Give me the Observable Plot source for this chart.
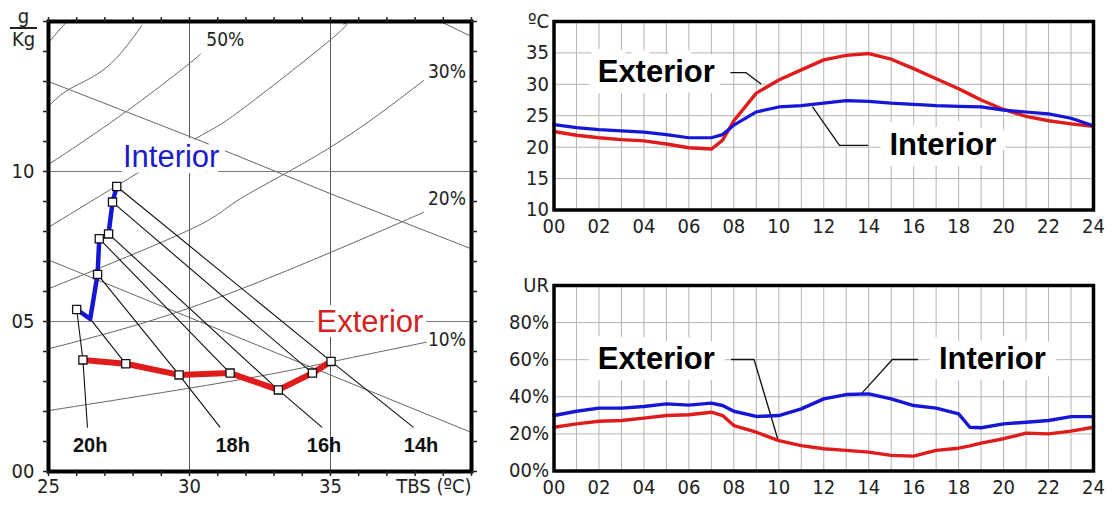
<!DOCTYPE html>
<html><head><meta charset="utf-8">
<script src="https://cdn.jsdelivr.net/npm/d3@7"></script>
<script src="https://cdn.jsdelivr.net/npm/@observablehq/plot@0.6"></script>
<style>
html,body{margin:0;padding:0;background:#fff;}
body{width:1115px;height:507px;position:relative;overflow:hidden;font-family:"Liberation Sans",Arial,sans-serif;}
#psy{position:absolute;left:0;top:0;}
#temp{position:absolute;left:500px;top:0;}
#hum{position:absolute;left:500px;top:250px;}
.frac{position:absolute;left:10px;top:6px;width:27px;text-align:center;color:#222;
 font-family:"Liberation Sans Narrow","DejaVu Sans Condensed",sans-serif;font-stretch:condensed;font-size:20px;line-height:21px;}
.frac .den{border-top:2px solid #222;}
</style></head>
<body>
<div id="psy"></div><div id="temp"></div><div id="hum"></div>
<div class="frac"><div>g</div><div class="den">Kg</div></div>
<script>
// ================= Psychrometric chart (TBS °C vs g/Kg) =================
const rh70 = [[25, 14.3], [25.65, 15]];
const rh60 = [[25, 12.17], [25.77, 12.76], [27.07, 13.48], [28.3, 14.85]];
const rh50 = [[25, 10.27], [25.4, 10.48], [27.8, 12.03], [29.9, 13.53], [30.4, 13.92]];
const rh40 = [[25, 8.14], [30, 10.98], [31.8, 12.03], [35, 14.39], [35.45, 14.92]];
const rh30 = [[25, 6.09], [30.1, 8.1], [31.8, 9.09], [35, 10.81], [38.3, 13.03]];
const rh20 = [[25, 4.09], [30, 5.45], [35.3, 7.42], [38.3, 8.64]];
const rh10 = [[25, 2.03], [31.6, 3.03], [35, 3.65], [38.4, 4.31]];
const wb1 = [[25, 13.0], [30, 11.17], [35, 9.26], [40, 7.42]];
const wb2 = [[25, 7.05], [40, 1.3]];
const wb3 = [[38.9, 15], [40, 14.5]];

const rhLabels = ["50%", "30%", "20%", "10%"];
const rhLabelT = [31.27, 39.13, 39.13, 39.13];
const rhLabelW = [14.37, 13.31, 9.08, 4.4];

const hourNames = [14, 15, 16, 17, 18, 19, 20];
const intT = [27.42, 27.27, 27.13, 26.80, 26.74, 26.48, 26.0];
const intW = [9.5, 8.98, 7.92, 7.76, 6.57, 5.09, 5.4];
const extT = [35.02, 34.36, 33.15, 31.44, 29.63, 27.74, 26.22];
const extW = [3.67, 3.28, 2.72, 3.28, 3.22, 3.59, 3.72];
const intMarked = [true, true, true, true, true, false, true];

const labeledHours = [14, 16, 18, 20];
const hourLabelText = ["14h", "16h", "18h", "20h"];
const hourLineEndT = [37.93, 34.69, 31.08, 26.38];
const hourLineEndW = [1.48, 1.48, 1.48, 1.48];
const hourLabelT = [38.21, 34.77, 31.53, 26.48];
const hourLabelW = [0.87, 0.87, 0.87, 0.87];

const psyGridT = [30, 35];
const psyGridW = [5, 10];
const psyXTicks = [25, 30, 35];
const psyXTickLabels = ["25", "30", "35"];
const psyXTitle = "TBS (ºC)";
const psyYTicks = [0, 5, 10];
const psyYTickLabels = ["00", "05", "10"];

// ================= Daily curves =================
const hours = [0,1,2,3,4,5,6,7,7.5,8,9,10,11,12,13,14,15,16,17,18,18.5,19,20,21,22,23,24];
const tempExt = [22.5,21.9,21.5,21.2,21.0,20.5,19.9,19.7,21.1,24.2,28.6,30.7,32.3,33.9,34.6,34.9,34.0,32.5,30.9,29.3,28.4,27.5,26.0,24.9,24.2,23.7,23.3];
const tempInt = [23.6,23.1,22.8,22.6,22.4,22.0,21.5,21.5,22.0,23.5,25.6,26.4,26.6,27.0,27.4,27.3,27.0,26.8,26.6,26.5,26.45,26.4,25.9,25.6,25.3,24.6,23.4];
const rhExt = [23.6,25.4,26.8,27.2,28.5,29.9,30.3,31.7,29.9,24.5,20.9,16.4,13.7,12.0,11.1,10.2,8.4,8.0,11.1,12.3,13.5,15.0,17.4,20.4,20.0,21.5,23.6];
const rhInt = [29.9,32.2,33.9,33.9,34.8,36.2,35.5,36.6,35.3,32.2,29.4,29.9,33.5,38.9,41.2,41.6,38.9,35.3,33.9,30.8,23.6,23.3,25.4,26.3,27.2,29.3,29.3];

const hourTicks = [0,2,4,6,8,10,12,14,16,18,20,22,24];
const hourTickLabels = ["00","02","04","06","08","10","12","14","16","18","20","22","24"];
const tempTicks = [10,15,20,25,30,35,40];
const tempTickLabels = ["10","15","20","25","30","35","ºC"];
const rhTicks = [0,20,40,60,80,100];
const rhTickLabels = ["00%","20%","40%","60%","80%","UR"];

// callouts [hour, value]
const tempExtLeader = [[7.87, 31.85], [8.54, 31.85], [9.2, 30.1]];
const tempIntLeader = [[11.51, 26.37], [12.7, 20.27], [13.96, 20.27]];
const rhExtLeader = [[7.9, 60.1], [8.9, 60.1], [9.95, 17.4]];
const rhIntLeader = [[16.17, 60.1], [15.05, 60.1], [13.67, 41.6]];

// ---------------------------------------------------------------
const NARROW = '"Liberation Sans Narrow","DejaVu Sans Condensed",sans-serif';
const ARIAL = '"Liberation Sans", Arial, sans-serif';
const BLUE = "#1616d6", RED = "#e01b1b";
const pt = a => a.map(([x, y]) => ({x, y}));
const mapOf = (k, v) => new Map(k.map((d, i) => [d, v[i]]));

// ----- left chart -----
const rhCurves = [rh70, rh60, rh50, rh40, rh30, rh20, rh10].flatMap((c, k) => c.map(([x, y]) => ({x, y, k})));
const wbLines = [wb1, wb2, wb3].flatMap((c, k) => c.map(([x, y]) => ({x, y, k})));
const intPts = hourNames.map((h, i) => ({h, x: intT[i], y: intW[i], m: intMarked[i]}));
const extPts = hourNames.map((h, i) => ({h, x: extT[i], y: extW[i], m: true}));
const hourLines = hourNames.flatMap((h, i) => {
  const p = [{h, x: intT[i], y: intW[i]}, {h, x: extT[i], y: extW[i]}];
  const j = labeledHours.indexOf(h);
  if (j >= 0) p.push({h, x: hourLineEndT[j], y: hourLineEndW[j]});
  return p;
});
const hourLbls = hourLabelText.map((t, i) => ({t, x: hourLabelT[i], y: hourLabelW[i]}));
const rhLbls = rhLabels.map((t, i) => ({t, x: rhLabelT[i], y: rhLabelW[i]}));
const xLab = mapOf(psyXTicks, psyXTickLabels), yLab = mapOf(psyYTicks, psyYTickLabels);
const noLab = {label: null};

const psy = Plot.plot({
  width: 490, height: 507,
  marginLeft: 48, marginRight: 19, marginTop: 21, marginBottom: 36,
  x: {domain: [25, 40], label: null},
  y: {domain: [0, 15], label: null},
  style: {fontFamily: NARROW, fontSize: "20px", color: "#222", background: "white", overflow: "visible"},
  marks: [
    Plot.ruleX(psyGridT, {stroke: "#5a5a5a", strokeWidth: 1}),
    Plot.ruleY(psyGridW, {stroke: "#7a7a7a", strokeWidth: 1}),
    Plot.line(rhCurves, {x: "x", y: "y", z: "k", curve: "natural", stroke: "#666", strokeWidth: 1}),
    Plot.line(wbLines, {x: "x", y: "y", z: "k", stroke: "#666", strokeWidth: 1}),
    Plot.text(rhLbls, {x: "x", y: "y", text: "t", fill: "#222", fontSize: 19, fontFamily: NARROW}),
    Plot.line(hourLines, {x: "x", y: "y", z: "h", stroke: "#111", strokeWidth: 1.1}),
    Plot.text(["Interior"], {x: 29.35, y: 10.47, fill: "#1c1cc8", fontSize: 31, fontFamily: ARIAL,
      stroke: "white", strokeWidth: 12, paintOrder: "stroke", strokeLinejoin: "round"}),
    Plot.text(["Exterior"], {x: 36.4, y: 4.97, fill: "#d42222", fontSize: 31, fontFamily: ARIAL,
      stroke: "white", strokeWidth: 10, paintOrder: "stroke", strokeLinejoin: "round"}),
    Plot.line(extPts, {x: "x", y: "y", stroke: RED, strokeWidth: 6, strokeLinejoin: "round"}),
    Plot.line(intPts, {x: "x", y: "y", stroke: BLUE, strokeWidth: 4.5, strokeLinejoin: "round"}),
    Plot.dot(extPts.concat(intPts).filter(d => d.m), {x: "x", y: "y", symbol: "square", r: 4.6, fill: "white", stroke: "#111", strokeWidth: 1.3}),
    Plot.text(hourLbls, {x: "x", y: "y", text: "t", fontSize: 20, fontWeight: "bold", fill: "#111", fontFamily: ARIAL}),
    Plot.frame({stroke: "black", strokeWidth: 4}),
    Plot.axisX(d3.range(25, 41), {anchor: "bottom", tickSize: 5, strokeWidth: 1.5, tickFormat: () => "", ...noLab}),
    Plot.axisX(d3.range(25, 41), {anchor: "top", tickSize: 5, strokeWidth: 1.5, tickFormat: () => "", ...noLab}),
    Plot.axisY(d3.range(0, 16), {anchor: "left", tickSize: 5, strokeWidth: 1.5, tickFormat: () => "", ...noLab}),
    Plot.axisY(d3.range(0, 16), {anchor: "right", tickSize: 5, strokeWidth: 1.5, tickFormat: () => "", ...noLab}),
    Plot.axisX(psyXTicks, {anchor: "bottom", tickSize: 0, tickPadding: 7, tickFormat: d => xLab.get(d), fontSize: 20, ...noLab}),
    Plot.text([psyXTitle], {x: 40, y: 0, textAnchor: "end", lineAnchor: "top", dy: 7, fontSize: 20, fill: "#222"}),
    Plot.axisY(psyYTicks, {anchor: "left", tickSize: 0, tickPadding: 14, tickFormat: d => yLab.get(d), fontSize: 20, ...noLab})
  ]
});
document.getElementById("psy").append(psy);

// ----- right charts -----
const series = (vals) => hours.map((h, i) => ({h, v: vals[i]}));
const hLab = mapOf(hourTicks, hourTickLabels);
const tLab = mapOf(tempTicks, tempTickLabels);
const rLab = mapOf(rhTicks, rhTickLabels);
const calloutText = (t, x, y) => Plot.text([t], {x, y, fontSize: 31, fontWeight: "bold", fill: "#000",
  fontFamily: ARIAL, stroke: "white", strokeWidth: 22, paintOrder: "stroke", strokeLinejoin: "round"});

const temp = Plot.plot({
  width: 615, height: 245,
  marginLeft: 53.5, marginRight: 22, marginTop: 21, marginBottom: 35.5,
  x: {domain: [0, 24], label: null},
  y: {domain: [10, 40], label: null},
  style: {fontFamily: NARROW, fontSize: "20px", color: "#222", background: "transparent", overflow: "visible"},
  marks: [
    Plot.ruleX(d3.range(0, 25), {stroke: "#b4b4b4", strokeWidth: 1}),
    Plot.ruleY(tempTicks.slice(1, -1), {stroke: "#b4b4b4", strokeWidth: 1}),
    calloutText("Exterior", 4.55, 31.9),
    calloutText("Interior", 17.3, 20.27),
    Plot.line(pt(tempExtLeader), {x: "x", y: "y", stroke: "#111", strokeWidth: 1.3}),
    Plot.line(pt(tempIntLeader), {x: "x", y: "y", stroke: "#111", strokeWidth: 1.3}),
    Plot.line(series(tempExt), {x: "h", y: "v", stroke: RED, strokeWidth: 3.4}),
    Plot.line(series(tempInt), {x: "h", y: "v", stroke: BLUE, strokeWidth: 3.2}),
    Plot.frame({stroke: "black", strokeWidth: 3.5}),
    Plot.axisX(hourTicks, {anchor: "bottom", tickSize: 0, tickPadding: 9, tickFormat: d => hLab.get(d), fontSize: 20, ...noLab}),
    Plot.axisY(tempTicks, {anchor: "left", tickSize: 0, tickPadding: 5, tickFormat: d => tLab.get(d), fontSize: 20, ...noLab})
  ]
});
document.getElementById("temp").append(temp);

const hum = Plot.plot({
  width: 615, height: 257,
  marginLeft: 53.5, marginRight: 22, marginTop: 35, marginBottom: 36.5,
  x: {domain: [0, 24], label: null},
  y: {domain: [0, 100], label: null},
  style: {fontFamily: NARROW, fontSize: "20px", color: "#222", background: "transparent", overflow: "visible"},
  marks: [
    Plot.ruleX(d3.range(0, 25), {stroke: "#b4b4b4", strokeWidth: 1}),
    Plot.ruleY(rhTicks.slice(1, -1), {stroke: "#b4b4b4", strokeWidth: 1}),
    calloutText("Exterior", 4.55, 60.1),
    calloutText("Interior", 19.5, 60.1),
    Plot.line(pt(rhExtLeader), {x: "x", y: "y", stroke: "#111", strokeWidth: 1.3}),
    Plot.line(pt(rhIntLeader), {x: "x", y: "y", stroke: "#111", strokeWidth: 1.3}),
    Plot.line(series(rhExt), {x: "h", y: "v", stroke: RED, strokeWidth: 3.4}),
    Plot.line(series(rhInt), {x: "h", y: "v", stroke: BLUE, strokeWidth: 3.4}),
    Plot.frame({stroke: "black", strokeWidth: 3.5}),
    Plot.axisX(hourTicks, {anchor: "bottom", tickSize: 0, tickPadding: 9, tickFormat: d => hLab.get(d), fontSize: 20, ...noLab}),
    Plot.axisY(rhTicks, {anchor: "left", tickSize: 0, tickPadding: 5, tickFormat: d => rLab.get(d), fontSize: 20, ...noLab})
  ]
});
document.getElementById("hum").append(hum);
</script>
</body></html>
